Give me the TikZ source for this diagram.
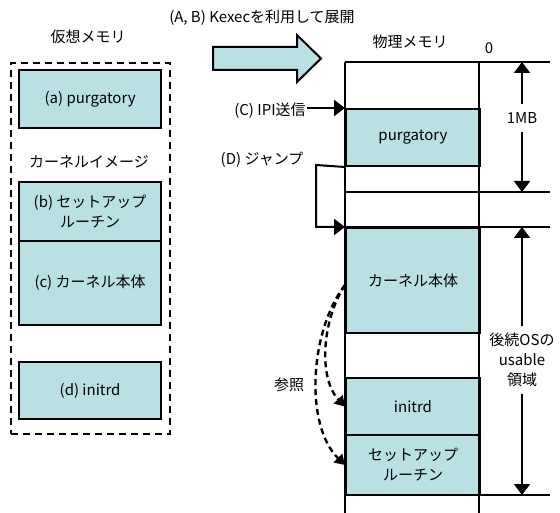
\documentclass[tikz,border=0pt]{standalone}
\usepackage{fontspec}
\setmainfont{Noto Sans CJK JP}
\usetikzlibrary{arrows.meta}
\definecolor{boxfill}{HTML}{B9E0E3}
\begin{document}
\begin{tikzpicture}[x=1pt,y=-1pt,
  font=\fontsize{15}{20}\selectfont,
  mbox/.style={draw, line width=2.2pt, fill=boxfill, anchor=north west, inner sep=0pt, align=center, minimum width=142pt},
  pbox/.style={draw, line width=2pt, fill=boxfill, anchor=north west, inner sep=0pt, align=center, minimum width=134pt},
  lbl/.style={inner sep=1pt, align=center},
  mline/.style={line width=2pt},
  tip/.style={-{Triangle[width=16pt,length=11pt]}, line width=2pt},
  dtip/.style={-{Triangle[width=12pt,length=10pt]}, line width=2.4pt, dash pattern=on 6pt off 4pt}
]
\useasboundingbox (0,0) rectangle (560,513);

% ---------- virtual memory ----------
\node[lbl] (vmt) at (88,37) {仮想メモリ};
\node[draw, line width=2.4pt, dash pattern=on 7pt off 5pt, anchor=north west, minimum width=159pt, minimum height=371pt, inner sep=0pt] (vbox) at (10,62) {};
\node[mbox, minimum height=58pt] (va) at (18,69) {(a) purgatory};
\node[lbl] (kimg) at (89,162) {カーネルイメージ};
\node[mbox, minimum height=59pt] (vb) at (18,181) {(b) セットアップ\\ルーチン};
\node[mbox, minimum height=84pt] (vc) at (18,240) {(c) カーネル本体};
\node[mbox, minimum height=57pt] (vd) at (18,361) {(d) initrd};

% ---------- block arrow ----------
\node[lbl] (kx) at (262,18) {(A, B) Kexecを利用して展開};
\draw[line width=2pt, fill=boxfill] (213,47) -- (297,47) -- (297,35) -- (321,58.5) -- (297,82) -- (297,70) -- (213,70) -- cycle;

% ---------- physical memory ----------
\node[lbl] (pmt) at (410,42) {物理メモリ};
\node[lbl] (zero) at (489,48) {0};
\node[pbox, minimum height=57pt] (pp) at (345,108) {purgatory};
\node[pbox, minimum height=105pt] (pk) at (345,227) {カーネル本体};
\node[pbox, minimum height=57pt] (pi) at (345,377) {initrd};
\node[pbox, minimum height=60pt] (ps) at (345,434) {セットアップ\\ルーチン};

\coordinate (c0l) at (345,62);  \coordinate (c0r) at (550,62);
\coordinate (c1l) at (345,192); \coordinate (c1r) at (550,192);
\coordinate (c2l) at (345,227); \coordinate (c2r) at (550,227);
\coordinate (c3l) at (345,495); \coordinate (c3r) at (550,495);
\coordinate (bl) at (345,513);  \coordinate (br) at (479,513);
\coordinate (tr) at (479,62);

\draw[mline] (c0l) -- (bl);
\draw[mline] (tr) -- (br);
\draw[mline] (c0l) -- (c0r);
\draw[mline] (c1l) -- (c1r);
\draw[mline] (c2l) -- (c2r);
\draw[line width=2.8pt] (c3l) -- (c3r);

% ---------- dimension arrows ----------
\node[lbl, inner ysep=8pt] (mb) at (522,118) {1MB};
\draw[tip] (mb.north) -- (mb.north |- c0r);
\draw[tip] (mb.south) -- (mb.south |- c1r);
\node[lbl, inner ysep=7pt] (us) at (522,360) {後続OSの\\usable\\領域};
\draw[tip] (us.north) -- (us.north |- c2r);
\draw[tip] (us.south) -- (us.south |- c3r);

% ---------- C and D ----------
\node[lbl] (ipi) at (270,111) {(C) IPI送信};
\draw[tip] (ipi.east |- pp.north west) -- (pp.north west);
\node[lbl] (jmp) at (262,160) {(D) ジャンプ};
\draw[tip] (pp.south west) -- (316,165) |- (pk.north west);

% ---------- reference ----------
\node[lbl] (ref) at (289,385) {参照};
\coordinate (rs) at (345,285);
\draw[dtip] (rs) .. controls (322,320) and (318,378) .. (pi.west);
\draw[dtip] (rs) .. controls (310,330) and (304,425) .. (ps.west);
\end{tikzpicture}
\end{document}
